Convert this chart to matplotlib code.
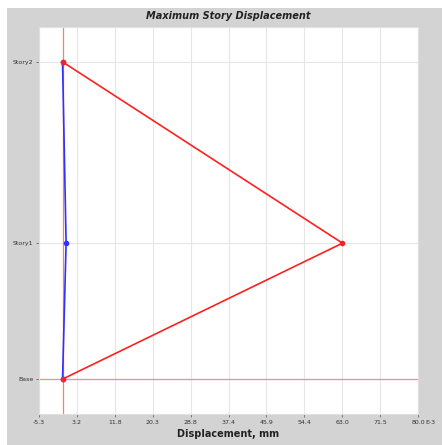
import matplotlib
matplotlib.use("Agg")
import matplotlib.pyplot as plt
from matplotlib.patches import Rectangle

# story data
stories = ["Base", "Story1", "Story2"]
elevations = [0, 3, 7]
disp_red = [0, 63.0, 0]
disp_blue = [0, 0.8, 0]

x_ticks = [-5.3, 3.2, 11.8, 20.3, 28.8, 37.4, 45.9, 54.4, 63.0, 71.5, 80.0]
x_labels = ["-5.3", "3.2", "11.8", "20.3", "28.8", "37.4", "45.9", "54.4", "63.0", "71.5", "80.0"]

W, H = 442, 445
fig = plt.figure(figsize=(W / 100, H / 100), dpi=100)
fig.patch.set_facecolor("white")
fig.patches.append(Rectangle((7 / W, 0), 1 - 7 / W, 1 - 8 / H, transform=fig.transFigure,
                             facecolor="#d3d3d3", edgecolor="none", zorder=-5))

ax = fig.add_axes([39 / W, 1 - 414 / H, 379 / W, 387 / H])
ax.set_zorder(1)
ax.set_facecolor("white")

ax.set_xlim(-5.3, 80.0)
ax.set_ylim(-0.77, 7.77)
ax.set_xticks(x_ticks)
ax.set_xticklabels(x_labels)
ax.set_yticks(elevations)
ax.set_yticklabels(stories)
ax.tick_params(axis="both", labelsize=4.5, length=2, width=0.5, color="#555555",
               labelcolor="#333333", pad=2)
ax.grid(True, color="#e6e6e6", linewidth=0.8)
ax.set_axisbelow(True)
for s in ax.spines.values():
    s.set_color("#e0e0e0")
    s.set_linewidth(0.8)

# reference lines
ax.axvline(0, color="#ff7a7a", linewidth=0.9, zorder=1)
ax.axhline(0, color="#ff8a8a", linewidth=0.9, zorder=1)

ax.plot(disp_blue, elevations, color="#3030ff", linewidth=1.2, marker="o", markersize=3, zorder=2)
ax.plot(disp_red, elevations, color="#ff2020", linewidth=1.2, marker="o", markersize=3, zorder=3)

ax.annotate("E-3", xy=(1.0, 0.0), xycoords="axes fraction", xytext=(5, -4),
            textcoords="offset points", fontsize=4.5, color="#333333", ha="left", va="top")
ax.set_xlabel("Displacement, mm", fontsize=7, fontweight="bold", labelpad=3, color="#222222")
fig.text(228 / W, 1 - 16 / H, "Maximum Story Displacement", fontsize=7, fontweight="bold",
         fontstyle="italic", ha="center", va="center", color="#222222")

fig.savefig("out.png", dpi=100)
